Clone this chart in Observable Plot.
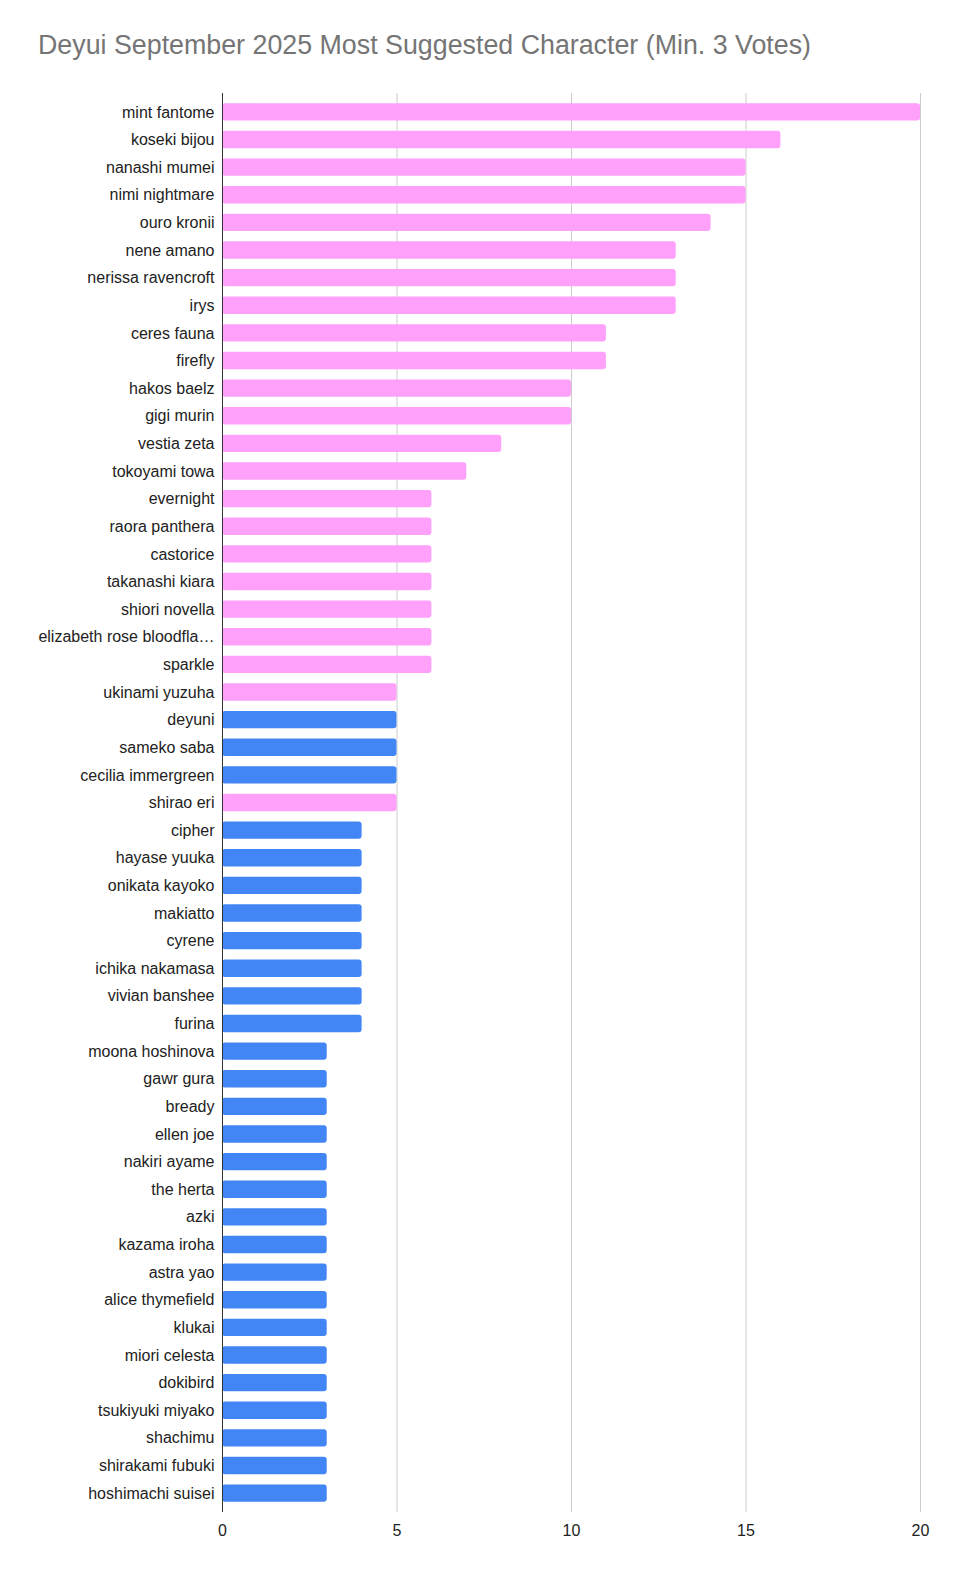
<!DOCTYPE html>
<html>
<head>
<meta charset="utf-8">
<script src="https://cdn.jsdelivr.net/npm/d3@7"></script>
<script src="https://cdn.jsdelivr.net/npm/@observablehq/plot@0.6"></script>
<style>
  html, body { margin: 0; padding: 0; background: #fff; width: 968px; height: 1584px; overflow: hidden; font-family: "Liberation Sans", Arial, sans-serif; }
  #title { position: absolute; left: 38px; top: 29px; font-size: 26.8px; line-height: 32px; color: #757575; white-space: nowrap; }
  #chart { position: absolute; left: 0; top: 70px; width: 968px; }
  #chart svg { display: block; }
</style>
</head>
<body>
<div id="title">Deyui September 2025 Most Suggested Character (Min. 3 Votes)</div>
<div id="chart"></div>
<script>
const names = [
  "mint fantome","koseki bijou","nanashi mumei","nimi nightmare","ouro kronii",
  "nene amano","nerissa ravencroft","irys","ceres fauna","firefly",
  "hakos baelz","gigi murin","vestia zeta","tokoyami towa","evernight",
  "raora panthera","castorice","takanashi kiara","shiori novella","elizabeth rose bloodflame",
  "sparkle","ukinami yuzuha","deyuni","sameko saba","cecilia immergreen",
  "shirao eri","cipher","hayase yuuka","onikata kayoko","makiatto",
  "cyrene","ichika nakamasa","vivian banshee","furina","moona hoshinova",
  "gawr gura","bready","ellen joe","nakiri ayame","the herta",
  "azki","kazama iroha","astra yao","alice thymefield","klukai",
  "miori celesta","dokibird","tsukiyuki miyako","shachimu","shirakami fubuki",
  "hoshimachi suisei"
];
const votes = [
  20,16,15,15,14,
  13,13,13,11,11,
  10,10,8,7,6,
  6,6,6,6,6,
  6,5,5,5,5,
  5,4,4,4,4,
  4,4,4,4,3,
  3,3,3,3,3,
  3,3,3,3,3,
  3,3,3,3,3,
  3
];
const groups = [
  "S1","S1","S1","S1","S1",
  "S1","S1","S1","S1","S1",
  "S1","S1","S1","S1","S1",
  "S1","S1","S1","S1","S1",
  "S1","S1","S2","S2","S2",
  "S1","S2","S2","S2","S2",
  "S2","S2","S2","S2","S2",
  "S2","S2","S2","S2","S2",
  "S2","S2","S2","S2","S2",
  "S2","S2","S2","S2","S2",
  "S2"
];
const xTicks = [0, 5, 10, 15, 20];
const gridTicks = [5, 10, 15, 20];

const data = names.map((n, i) => ({name: n, votes: votes[i], group: groups[i]}));

const trunc = s => s.length > 23 ? s.slice(0, 23) + "\u2026" : s;

const chart = Plot.plot({
  width: 968,
  height: 1482,
  marginLeft: 222,
  marginRight: 48,
  marginTop: 23,
  marginBottom: 40,
  style: {fontFamily: "'Liberation Sans', Arial, sans-serif", fontSize: "16px", color: "#222", background: "#fff"},
  x: {domain: [0, 20], ticks: xTicks, label: null},
  y: {domain: names, padding: 0.37, round: false, label: null},
  color: {type: "ordinal", domain: ["S1", "S2"], range: ["#ffa0fa", "#4285f4"]},
  marks: [
    Plot.gridX(gridTicks, {stroke: "#cccccc", strokeOpacity: 1}),
    Plot.barX(data, {x: "votes", y: "name", fill: "group", rx: 3}),
    Plot.ruleX([0], {stroke: "#333", strokeWidth: 1}),
    Plot.axisX({ticks: xTicks, tickSize: 0, tickPadding: 12, label: null, fontSize: 16, fill: "#222"}),
    Plot.axisY({tickSize: 0, tickPadding: 8, label: null, tickFormat: trunc, fontSize: 16, fill: "#222"})
  ]
});
document.getElementById("chart").appendChild(chart);
</script>
</body>
</html>
